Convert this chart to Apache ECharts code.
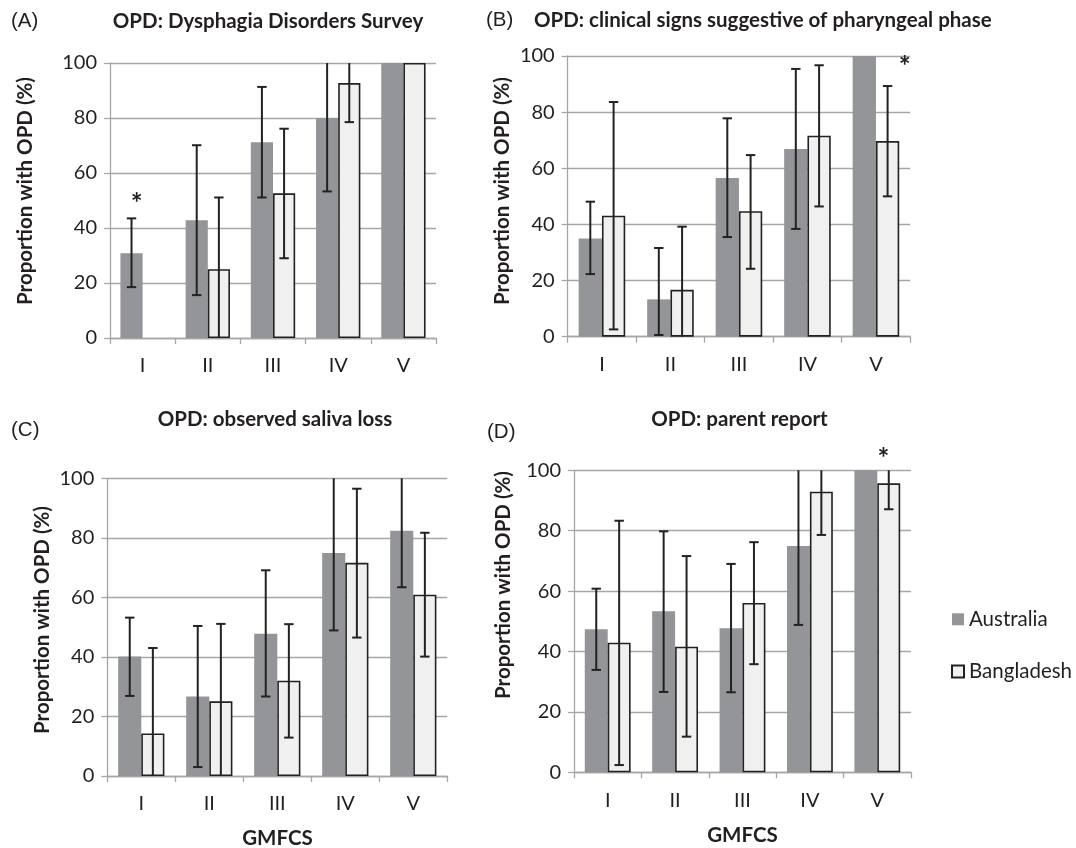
<!DOCTYPE html>
<html>
<head>
<meta charset="utf-8">
<script src="https://cdn.jsdelivr.net/npm/echarts@6/dist/echarts.min.js"></script>
<style>
html,body{margin:0;padding:0;background:#fff;}
#c{width:1076px;height:848px;}
</style>
</head>
<body>
<div id="c"></div>
<script>
// ---------- data ----------
const categories = ['I', 'II', 'III', 'IV', 'V'];
const seriesNames = ['Australia', 'Bangladesh'];
const yTicks = [0, 20, 40, 60, 80, 100];

const panelLabels = ['(A)', '(B)', '(C)', '(D)'];
const panelTitles = [
  'OPD: Dysphagia Disorders Survey',
  'OPD: clinical signs suggestive of pharyngeal phase',
  'OPD: observed saliva loss',
  'OPD: parent report'
];
const yName = 'Proportion with OPD (%)';
const xName = 'GMFCS';

// Panel A
const ausA    = [30.8, 42.8, 71.2, 80.0, 100];
const ausA_lo = [18.5, 15.6, 51.1, 53.3, null];
const ausA_hi = [43.5, 70.1, 91.3, 100, null];
const banA    = [0, 25.0, 52.6, 92.7, 100];
const banA_lo = [null, 0, 29.0, 78.5, null];
const banA_hi = [null, 51.1, 76.1, 100, null];
const starsA  = [[-0.09, 51.2]];

// Panel B
const ausB    = [35.0, 13.3, 56.5, 66.9, 100];
const ausB_lo = [22.3, 0.6, 35.5, 38.4, null];
const ausB_hi = [48.1, 31.6, 77.8, 95.4, null];
const banB    = [43.1, 16.7, 44.7, 71.6, 69.7];
const banB_lo = [2.6, 0, 24.2, 46.4, 50.0];
const banB_hi = [83.6, 39.2, 64.7, 96.7, 89.3];
const starsB  = [[4.42, 98.6]];

// Panel C
const ausC    = [40.1, 26.7, 47.8, 74.9, 82.4];
const ausC_lo = [26.9, 3.0, 26.7, 48.9, 63.4];
const ausC_hi = [53.2, 50.4, 69.1, 100, 100];
const banC    = [14.3, 25.1, 32.0, 71.6, 60.9];
const banC_lo = [0, 0, 12.9, 46.5, 40.1];
const banC_hi = [43.0, 51.1, 51.0, 96.5, 81.7];
const starsC  = [];

// Panel D
const ausD    = [47.4, 53.3, 47.7, 74.9, 100];
const ausD_lo = [33.9, 26.6, 26.5, 48.8, null];
const ausD_hi = [60.8, 79.8, 69.0, 100, null];
const banD    = [42.9, 41.6, 56.1, 92.9, 95.7];
const banD_lo = [2.4, 11.8, 35.8, 78.6, 87.1];
const banD_hi = [83.3, 71.6, 76.2, 100, 100];
const starsD  = [[4.09, 106.2]];

// ---------- layout / style ----------
const FONT = 'Lato';
const LABEL_FONT = '"Liberation Sans"';
const TXT = '#231f20';
const GRIDC = '#a6a6a6';
const AUS_COLOR = '#939598';
const BAN_COLOR = '#eff0ef';
const DARK = '#222222';
const FS = 20;      // tick text
const FST = 20.5;   // titles

const grids = [
  {left: 110,   top: 63,    width: 326,   height: 275},
  {left: 567.7, top: 56,    width: 342.5, height: 280.7},
  {left: 107.3, top: 478.3, width: 340,   height: 297.7},
  {left: 574,   top: 470.3, width: 337,   height: 302}
];

const panels = [
  {aus: ausA, ausLo: ausA_lo, ausHi: ausA_hi, ban: banA, banLo: banA_lo, banHi: banA_hi, stars: starsA},
  {aus: ausB, ausLo: ausB_lo, ausHi: ausB_hi, ban: banB, banLo: banB_lo, banHi: banB_hi, stars: starsB},
  {aus: ausC, ausLo: ausC_lo, ausHi: ausC_hi, ban: banC, banLo: banC_lo, banHi: banC_hi, stars: starsC},
  {aus: ausD, ausLo: ausD_lo, ausHi: ausD_hi, ban: banD, banLo: banD_lo, banHi: banD_hi, stars: starsD}
];

const CAT_GAP = 0.32;
const BAR_OFF = (1 - CAT_GAP) / 4; // centre offset of each bar in category widths

function errData(lo, hi) {
  const out = [];
  for (let i = 0; i < categories.length; i++) {
    if (lo[i] == null || hi[i] == null) continue;
    out.push([i, lo[i], hi[i]]);
  }
  return out;
}

function errSeries(idx, lo, hi, side) {
  return {
    type: 'custom',
    xAxisIndex: idx, yAxisIndex: idx,
    z: 5,
    silent: true,
    clip: false,
    data: errData(lo, hi),
    encode: {x: 0, y: [1, 2]},
    renderItem: function (params, api) {
      const i = api.value(0);
      const l = api.value(1), h = api.value(2);
      const catW = api.size([1, 0])[0];
      const x = api.coord([i, 0])[0] + side * BAR_OFF * catW;
      const yl = api.coord([i, l])[1];
      const yh = api.coord([i, h])[1];
      const cap = 4.7;
      const st = {stroke: DARK, lineWidth: 2};
      const ch = [{type: 'line', shape: {x1: x, y1: yl, x2: x, y2: yh}, style: st}];
      if (h < 100) ch.push({type: 'line', shape: {x1: x - cap, y1: yh, x2: x + cap, y2: yh}, style: st});
      if (l > 0) ch.push({type: 'line', shape: {x1: x - cap, y1: yl, x2: x + cap, y2: yl}, style: st});
      return {type: 'group', children: ch};
    }
  };
}

function starSeries(idx, stars) {
  return {
    type: 'custom',
    xAxisIndex: idx, yAxisIndex: idx,
    z: 6, silent: true, clip: false,
    data: stars.map(s => [0, s[1]]),
    renderItem: function (params, api) {
      const s = stars[params.dataIndex];
      const catW = api.size([1, 0])[0];
      const p = api.coord([0, s[1]]);
      const x = p[0] + s[0] * catW;
      return {
        type: 'text',
        style: {
          x: x, y: p[1] + 7,
          text: '*',
          fill: TXT,
          font: 'bold 28px ' + FONT,
          textAlign: 'center',
          textVerticalAlign: 'middle'
        }
      };
    }
  };
}

const xAxes = [], yAxes = [], series = [];
grids.forEach((g, idx) => {
  xAxes.push({
    type: 'category', gridIndex: idx, data: categories,
    axisLine: {lineStyle: {color: GRIDC, width: 1.3}},
    axisTick: {show: true, length: 6, lineStyle: {color: GRIDC, width: 1.3}},
    axisLabel: {color: TXT, fontFamily: FONT, fontSize: FS, margin: 18}
  });
  yAxes.push({
    type: 'value', gridIndex: idx, min: 0, max: 100, interval: 20,
    axisLine: {show: true, lineStyle: {color: GRIDC, width: 1.3}},
    axisTick: {show: true, length: 6, lineStyle: {color: GRIDC, width: 1.3}},
    splitLine: {show: true, lineStyle: {color: GRIDC, width: 1.3}},
    axisLabel: {color: TXT, fontFamily: FONT, fontSize: FS, margin: 13,
      formatter: v => (yTicks.indexOf(v) >= 0 ? String(v) : '')}
  });
  const p = panels[idx];
  series.push({
    name: seriesNames[0], type: 'bar', xAxisIndex: idx, yAxisIndex: idx,
    data: p.aus, barGap: '0%', barCategoryGap: (CAT_GAP * 100) + '%',
    itemStyle: {color: AUS_COLOR}, silent: true
  });
  series.push({
    name: seriesNames[1], type: 'bar', xAxisIndex: idx, yAxisIndex: idx,
    data: p.ban.map(v => v === 0 ? {value: 0, itemStyle: {borderWidth: 0}} : v),
    barGap: '0%', barCategoryGap: (CAT_GAP * 100) + '%',
    itemStyle: {color: BAN_COLOR, borderColor: DARK, borderWidth: 1.6}, silent: true
  });
  series.push(errSeries(idx, p.ausLo, p.ausHi, -1));
  series.push(errSeries(idx, p.banLo, p.banHi, 1));
  if (p.stars.length) series.push(starSeries(idx, p.stars));
});

function txt(x, y, text, opts) {
  opts = opts || {};
  return {
    type: 'text', x: x, y: y, rotation: opts.rot || 0, silent: true,
    style: {
      text: text, fill: TXT,
      font: (opts.bold ? 'bold ' : '') + (opts.size || FST) + 'px ' + (opts.family || FONT),
      textAlign: opts.align || 'center', textVerticalAlign: 'middle'
    }
  };
}

const PL = {align: 'left', size: 20.5, family: LABEL_FONT};
const graphics = [
  txt(11, 21, panelLabels[0], PL),
  txt(268, 21, panelTitles[0], {bold: true}),
  txt(486, 20, panelLabels[1], PL),
  txt(534, 20, panelTitles[1], {bold: true, align: 'left'}),
  txt(11, 430, panelLabels[2], PL),
  txt(275, 419, panelTitles[2], {bold: true}),
  txt(487, 432, panelLabels[3], PL),
  txt(739.5, 419, panelTitles[3], {bold: true}),
  txt(277.5, 838, xName, {bold: true}),
  txt(742.5, 835, xName, {bold: true}),
  txt(25, 191, yName, {bold: true, rot: Math.PI / 2}),
  txt(502, 191, yName, {bold: true, rot: Math.PI / 2}),
  txt(42, 620, yName, {bold: true, rot: Math.PI / 2}),
  txt(503, 585, yName, {bold: true, rot: Math.PI / 2})
];

const chart = echarts.init(document.getElementById('c'), null, {renderer: 'canvas'});
chart.setOption({
  backgroundColor: '#ffffff',
  animation: false,
  grid: grids,
  xAxis: xAxes,
  yAxis: yAxes,
  series: series,
  legend: {
    data: seriesNames,
    orient: 'vertical',
    left: 951, top: 608.8,
    padding: 0,
    itemWidth: 12, itemHeight: 12, itemGap: 31.2,
    icon: 'rect',
    selectedMode: false,
    textStyle: {color: TXT, fontFamily: FONT, fontSize: 20.5, lineHeight: 20}
  },
  graphic: graphics
});
</script>
</body>
</html>
